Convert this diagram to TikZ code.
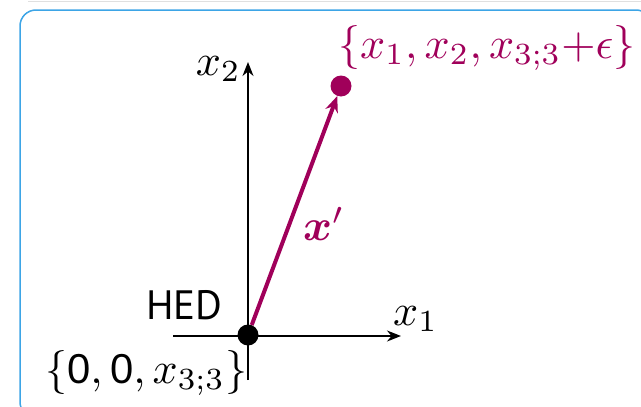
\documentclass[tikz,border=0pt]{standalone}
\usepackage{amsmath}
\usepackage{amssymb}
\usepackage{bm}
\usepackage{graphicx}
\usepackage{fontspec}
\newfontfamily\hedfont{Liberation Sans}
\newfontfamily\tagfont{PT Sans}
\usepackage{tikz}
\usetikzlibrary{arrows.meta, positioning}
\definecolor{vecpurple}{HTML}{A0005A}
\definecolor{framblue}{HTML}{3DA5E6}
\newcommand{\sfz}{\mbox{\hedfont\fontsize{9.5}{11}\selectfont 0}}
\newcommand{\lblsize}[1]{\scalebox{4.4}{#1}}

\begin{document}
\begin{tikzpicture}[
  x=1pt, y=-1pt,
  axis/.style={draw=black, line width=1.6pt, -{Stealth[length=14pt, width=11pt]}},
  vec/.style={draw=vecpurple, line width=4pt, -{Stealth[length=16pt, width=13pt]}},
  dot/.style={circle, minimum size=21pt, inner sep=0pt},
  lbl/.style={inner sep=0pt}
]
\useasboundingbox (0,0) rectangle (641,407);
\draw[black!12, line width=1pt] (28,1.5) -- (641,1.5);
\draw[framblue, line width=1.5pt, rounded corners=16pt] (20,10) rectangle (652,418);
% axes
\coordinate (xleft) at (173,336);
\coordinate (xright) at (401,336);
\coordinate (ybot) at (248,380);
\coordinate (ytop) at (248,62);
\draw[axis] (xleft) -- (xright);
\draw[axis] (ybot) -- (ytop);
% points
\node[dot, fill=black] (hed) at (248,335) {};
\node[dot, fill=vecpurple] (shift) at (341,86) {};
\draw[vec] (hed) -- (shift);
% labels
\node[lbl, anchor=base east] (xtwo) at (241,75) {\lblsize{$x_2$}};
\node[lbl, anchor=base west] (xone) at (393,325) {\lblsize{$x_1$}};
\node[anchor=base west, inner sep=0pt, font=\tagfont\fontsize{41}{48}\selectfont] (hedlbl) at (146,319) {HED};
\node[lbl, anchor=base west] (orig) at (45,383) {\lblsize{$\{\sfz,\sfz,x_{3;3}\}$}};
\node[lbl, anchor=base west, text=vecpurple] (shiftlbl) at (338,58) {\lblsize{$\{x_1,x_2,x_{3;3}{+}\epsilon\}$}};
\node[lbl, anchor=base west, text=vecpurple] (vlbl) at (303,240) {\lblsize{$\bm{x}'$}};
\end{tikzpicture}
\end{document}
